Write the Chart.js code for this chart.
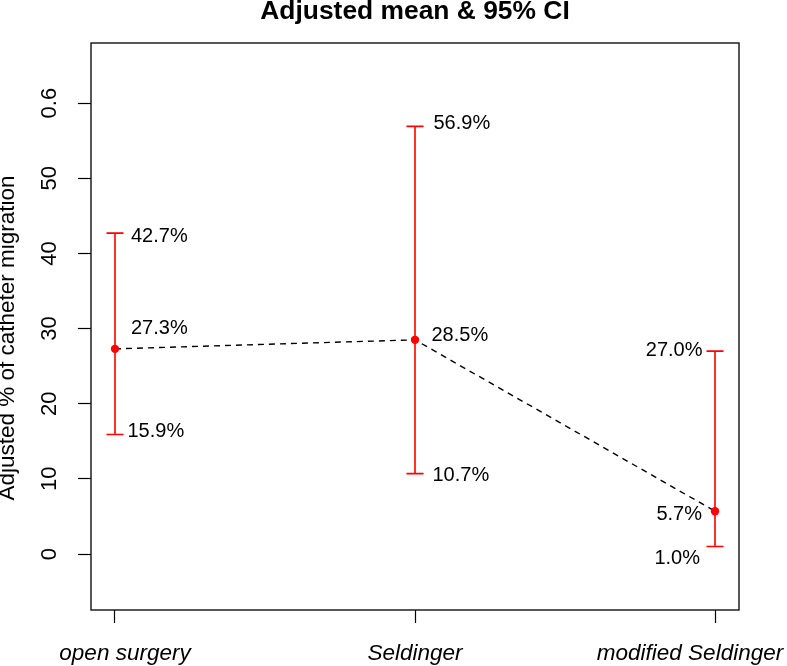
<!DOCTYPE html>
<html>
<head>
<meta charset="utf-8">
<script src="https://cdn.jsdelivr.net/npm/chart.js@4/dist/chart.umd.min.js"></script>
<style>
  html, body { margin: 0; padding: 0; background: #fff; }
  #wrap { width: 787px; height: 666px; }
</style>
</head>
<body>
<div id="wrap"><canvas id="c" width="787" height="666"></canvas></div>
<script>
// ---- data ----
const categories = ["open surgery", "Seldinger", "modified Seldinger"];
const means  = [27.3, 28.5, 5.7];
const ciLow  = [15.9, 10.7, 1.0];
const ciHigh = [42.7, 56.9, 27.0];
const meanLabels = ["27.3%", "28.5%", "5.7%"];
const lowLabels  = ["15.9%", "10.7%", "1.0%"];
const highLabels = ["42.7%", "56.9%", "27.0%"];
const yTickValues = [0, 10, 20, 30, 40, 50, 60];
const yTickLabels = ["0", "10", "20", "30", "40", "50", "0.6"];
const titleText = "Adjusted mean & 95% CI";
const yTitleText = "Adjusted % of catheter migration";

const FONT = '"Liberation Sans", Arial, Helvetica, sans-serif';

// label placement (pixel offsets relative to the mark), style only
const labelPlacement = [
  { high: {dx: 16,  dy: 3,   align: 'left'},  mean: {dx: 16,  dy: -20, align: 'left'},  low: {dx: 12.5, dy: -3.5, align: 'left'} },
  { high: {dx: 18.5, dy: -3, align: 'left'},  mean: {dx: 16.5, dy: -4,  align: 'left'},  low: {dx: 17.5, dy: 2,    align: 'left'} },
  { high: {dx: -12.5, dy: -1, align: 'right'}, mean: {dx: -13, dy: 3,   align: 'right'}, low: {dx: -15, dy: 12,    align: 'right'} }
];
// horizontal nudges of the category labels (style only)
const catLabelNudge = [10, 0, -25];

const bgPlugin = {
  id: 'bg',
  beforeDraw(chart) {
    const ctx = chart.ctx;
    ctx.save();
    ctx.fillStyle = '#fff';
    ctx.fillRect(0, 0, chart.width, chart.height);
    ctx.restore();
  }
};

const boxPlugin = {
  id: 'box',
  afterDraw(chart) {
    const {ctx, chartArea: a, scales: {x}} = chart;
    ctx.save();
    ctx.strokeStyle = '#111';
    ctx.lineWidth = 1.4;
    ctx.strokeRect(a.left, a.top, a.right - a.left, a.bottom - a.top);
    // category labels under the x axis ticks
    ctx.fillStyle = '#000';
    ctx.font = 'italic 22.5px ' + FONT;
    ctx.textAlign = 'center';
    ctx.textBaseline = 'alphabetic';
    categories.forEach((c, i) => {
      ctx.fillText(c, x.getPixelForValue(i + 1) + catLabelNudge[i], a.bottom + 50);
    });
    // y axis title
    ctx.font = '22.5px ' + FONT;
    ctx.translate(14, 338);
    ctx.rotate(-Math.PI / 2);
    ctx.fillText(yTitleText, 0, 0);
    ctx.restore();
  }
};

const errPlugin = {
  id: 'errbars',
  beforeDatasetsDraw(chart) {
    const {ctx, scales: {x, y}} = chart;
    ctx.save();
    ctx.strokeStyle = '#ff0000';
    ctx.lineWidth = 1.6;
    const cap = 8.5;
    for (let i = 0; i < categories.length; i++) {
      const px = x.getPixelForValue(i + 1);
      const pl = y.getPixelForValue(ciLow[i]);
      const ph = y.getPixelForValue(ciHigh[i]);
      ctx.beginPath();
      ctx.moveTo(px, pl); ctx.lineTo(px, ph);
      ctx.moveTo(px - cap, pl); ctx.lineTo(px + cap, pl);
      ctx.moveTo(px - cap, ph); ctx.lineTo(px + cap, ph);
      ctx.stroke();
    }
    ctx.restore();
  },
  afterDatasetsDraw(chart) {
    const {ctx, scales: {x, y}} = chart;
    ctx.save();
    ctx.fillStyle = '#000';
    ctx.font = '20px ' + FONT;
    ctx.textBaseline = 'middle';
    for (let i = 0; i < categories.length; i++) {
      const px = x.getPixelForValue(i + 1);
      const items = [
        [highLabels[i], ciHigh[i], labelPlacement[i].high],
        [meanLabels[i], means[i], labelPlacement[i].mean],
        [lowLabels[i], ciLow[i], labelPlacement[i].low]
      ];
      for (const [txt, v, p] of items) {
        ctx.textAlign = p.align;
        ctx.fillText(txt, px + p.dx, y.getPixelForValue(v) + p.dy);
      }
    }
    ctx.restore();
  }
};

new Chart(document.getElementById('c'), {
  type: 'line',
  data: {
    datasets: [{
      data: means.map((m, i) => ({x: i + 1, y: m})),
      borderColor: '#000',
      borderWidth: 1.4,
      borderDash: [6, 5],
      tension: 0,
      fill: false,
      pointRadius: 4.2,
      pointBackgroundColor: '#ff0000',
      pointBorderColor: '#ff0000',
      pointBorderWidth: 0
    }]
  },
  options: {
    responsive: false,
    animation: false,
    events: [],
    layout: { padding: {top: 0, left: 0, right: 48, bottom: 0} },
    plugins: {
      legend: { display: false },
      tooltip: { enabled: false },
      title: {
        display: true,
        text: titleText,
        fullSize: false,
        color: '#000',
        font: { family: FONT, size: 26.4, weight: 'bold', lineHeight: 0.86 },
        padding: { top: 0, bottom: 20.3 }
      }
    },
    scales: {
      x: {
        type: 'linear',
        min: 0.92,
        max: 3.08,
        afterBuildTicks: (s) => { s.ticks = categories.map((c, i) => ({value: i + 1})); },
        afterFit: (s) => { s.height = 56; s.paddingLeft = 0; s.paddingRight = 0; },
        ticks: { display: false },
        grid: { drawOnChartArea: false, drawTicks: true, tickLength: 13, color: '#000', tickWidth: 1.2 },
        border: { display: false }
      },
      y: {
        type: 'linear',
        min: -7.45,
        max: 68.0,
        afterBuildTicks: (s) => { s.ticks = yTickValues.map(v => ({value: v})); },
        afterFit: (s) => { s.width = 91; s.paddingTop = 0; s.paddingBottom = 0; },
        ticks: {
          autoSkip: false,
          minRotation: 90,
          maxRotation: 90,
          crossAlign: 'center',
          padding: 12.7,
          color: '#000',
          font: { family: FONT, size: 22 },
          callback: (v) => { const k = yTickValues.indexOf(v); return k >= 0 ? yTickLabels[k] : ''; }
        },
        grid: { drawOnChartArea: false, drawTicks: true, tickLength: 13, color: '#000', tickWidth: 1.2 },
        border: { display: false },
        title: { display: false }
      }
    }
  },
  plugins: [bgPlugin, errPlugin, boxPlugin]
});
</script>
</body>
</html>
